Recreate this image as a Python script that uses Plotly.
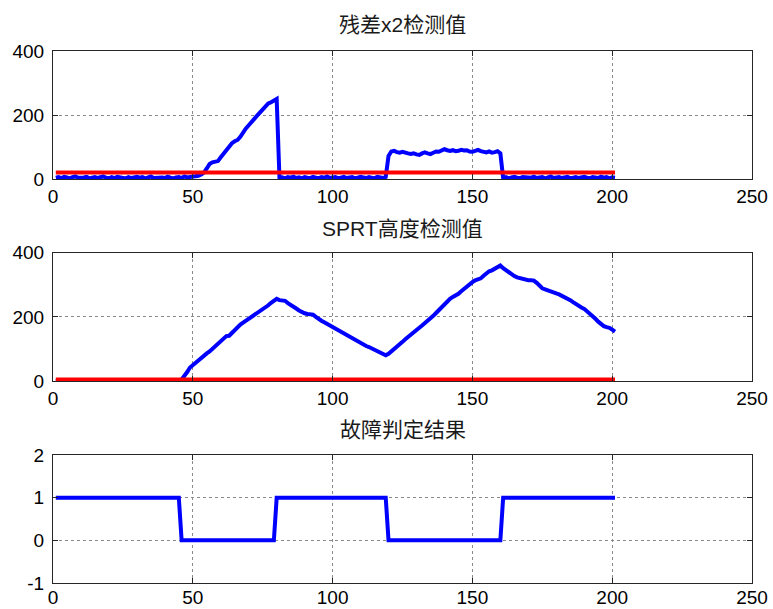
import plotly.graph_objects as go
from plotly.subplots import make_subplots

# ---------------- data ----------------
x2_values = [
    4, 6, 3, 7, 5, 2, 6, 8, 4, 3,
    5, 7, 2, 4, 6, 3, 5, 8, 4, 2,
    6, 3, 7, 5, 4, 2, 6, 3, 5, 7,
    4, 6, 2, 5, 8, 3, 4, 6, 5, 3,
    7, 4, 2, 5, 6, 3, 8, 5, 6, 7,
    9, 10, 14, 20, 33, 47, 52, 53, 56, 68,
    80, 90, 100, 112, 118, 122, 132, 148, 158, 168,
    180, 188, 198, 208, 220, 228, 236, 240, 244, 250,
    3, 5, 2, 6, 4, 7, 3, 5, 2, 6,
    4, 3, 7, 5, 2, 6, 4, 8, 3, 5,
    6, 2, 4, 7, 3, 5, 6, 2, 4, 7,
    5, 3, 6, 4, 2, 7, 5, 3, 6, 72,
    86, 88, 84, 82, 85, 84, 80, 78, 80, 77,
    75, 80, 83, 80, 78, 82, 86, 85, 88, 93,
    90, 88, 90, 87, 88, 91, 89, 90, 86, 85,
    88, 91, 87, 84, 83, 86, 82, 84, 87, 80,
    3, 6, 2, 5, 7, 4, 3, 6, 5, 2,
    4, 7, 3, 5, 6, 2, 4, 8, 3, 5,
    6, 3, 5, 7, 2, 4, 6, 3, 5, 7,
    4, 2, 6, 5, 3, 7, 4, 6, 2, 5,
    4,
]
x2_threshold = 20

sprt_values = [
    0, 0, 0, 0, 0, 0, 0, 0, 0, 0,
    0, 0, 0, 0, 0, 0, 0, 0, 0, 0,
    0, 0, 0, 0, 0, 0, 0, 0, 0, 0,
    0, 0, 0, 0, 0, 0, 0, 0, 0, 0,
    0, 0, 0, 0, 0, 5, 15, 28, 42, 50,
    58, 65, 72, 80, 86, 92, 100, 108, 117, 125,
    135, 140, 141, 150, 160, 168, 176, 182, 188, 193,
    198, 205, 212, 218, 224, 230, 236, 244, 250, 256,
    252, 252, 250, 243, 236, 231, 226, 220, 215, 211,
    209, 209, 207, 200, 193, 188, 183, 178, 173, 169,
    163, 157, 152, 147, 142, 137, 132, 128, 125, 118,
    112, 109, 106, 102, 98, 93, 89, 85, 80, 85,
    92, 97, 105, 114, 122, 130, 138, 146, 153, 160,
    166, 173, 180, 187, 194, 203, 212, 221, 230, 240,
    250, 256, 262, 266, 272, 280, 288, 296, 302, 308,
    314, 317, 320, 328, 336, 342, 345, 350, 355, 360,
    352, 345, 338, 332, 327, 323, 320, 317, 315, 314,
    314, 313, 306, 296, 289, 286, 282, 279, 276, 273,
    270, 266, 260, 256, 252, 246, 240, 233, 229, 225,
    218, 210, 202, 194, 185, 177, 171, 168, 166, 160,
    154,
]
sprt_threshold = 5

fault_values = [
    1, 1, 1, 1, 1, 1, 1, 1, 1, 1, 1, 1, 1, 1, 1,
    1, 1, 1, 1, 1, 1, 1, 1, 1, 1, 1, 1, 1, 1, 1,
    1, 1, 1, 1, 1, 1, 1, 1, 1, 1, 1, 1, 1, 1, 1,
    0, 0, 0, 0, 0, 0, 0, 0, 0, 0, 0, 0, 0, 0, 0,
    0, 0, 0, 0, 0, 0, 0, 0, 0, 0, 0, 0, 0, 0, 0,
    0, 0, 0, 0,
    1, 1, 1, 1, 1, 1, 1, 1, 1, 1, 1, 1, 1, 1, 1,
    1, 1, 1, 1, 1, 1, 1, 1, 1, 1, 1, 1, 1, 1, 1,
    1, 1, 1, 1, 1, 1, 1, 1, 1, 1,
    0, 0, 0, 0, 0, 0, 0, 0, 0, 0, 0, 0, 0, 0, 0,
    0, 0, 0, 0, 0, 0, 0, 0, 0, 0, 0, 0, 0, 0, 0,
    0, 0, 0, 0, 0, 0, 0, 0, 0, 0, 0,
    1, 1, 1, 1, 1, 1, 1, 1, 1, 1, 1, 1, 1, 1, 1,
    1, 1, 1, 1, 1, 1, 1, 1, 1, 1, 1, 1, 1, 1, 1,
    1, 1, 1, 1, 1, 1, 1, 1, 1, 1, 1,
]

titles = ["残差x2检测值", "SPRT高度检测值", "故障判定结果"]
x_ticks = [0, 50, 100, 150, 200, 250]
y_ticks_top = [0, 200, 400]
y_ticks_bottom = [-1, 0, 1, 2]

# ---------------- figure ----------------
x2_x = list(range(1, len(x2_values) + 1))
sprt_x = list(range(1, len(sprt_values) + 1))
fault_x = list(range(1, len(fault_values) + 1))

fig = make_subplots(rows=3, cols=1)
BLUE = "#0000FF"
RED = "#FF0000"
LW = 4

fig.add_trace(go.Scatter(x=x2_x, y=x2_values, mode="lines",
                         line=dict(color=BLUE, width=LW)), row=1, col=1)
fig.add_trace(go.Scatter(x=x2_x, y=[x2_threshold] * len(x2_x), mode="lines",
                         line=dict(color=RED, width=LW)), row=1, col=1)
fig.add_trace(go.Scatter(x=sprt_x, y=sprt_values, mode="lines",
                         line=dict(color=BLUE, width=LW)), row=2, col=1)
fig.add_trace(go.Scatter(x=sprt_x, y=[sprt_threshold] * len(sprt_x), mode="lines",
                         line=dict(color=RED, width=LW)), row=2, col=1)
fig.add_trace(go.Scatter(x=fault_x, y=fault_values, mode="lines",
                         line=dict(color=BLUE, width=LW)), row=3, col=1)

H = 609
top_px, bot_px = 51, 583
ph = bot_px - top_px
def py(p):
    return (bot_px - p) / ph

domains = [(py(179), 1.0), (py(381), py(252.7)), (0.0, py(455))]
title_y = [py(25), py(228), py(429)]

AX = "#262626"
GRID = "#8a8a8a"
TICKFONT = dict(family="Liberation Sans, Arial, sans-serif", size=19, color="#000")

common = dict(showline=True, linecolor=AX, linewidth=1, mirror="ticks",
              ticks="inside", ticklen=5, tickcolor=AX, tickwidth=1,
              showgrid=True, gridcolor=GRID, griddash="dot", gridwidth=1,
              zeroline=False, tickfont=TICKFONT, automargin=False)

x_standoff = [0, 0, -3]
for i in range(3):
    xa = "xaxis" if i == 0 else f"xaxis{i+1}"
    ya = "yaxis" if i == 0 else f"yaxis{i+1}"
    fig.layout[xa].update(range=[0, 250], tickvals=x_ticks,
                          ticktext=[str(v) for v in x_ticks],
                          domain=[0, 1], ticklabelstandoff=x_standoff[i], **common)
    if i < 2:
        fig.layout[ya].update(range=[0, 400], tickvals=y_ticks_top,
                              ticktext=[str(v) for v in y_ticks_top],
                              domain=list(domains[i]), ticklabelstandoff=4, **common)
    else:
        fig.layout[ya].update(range=[-1, 2], tickvals=y_ticks_bottom,
                              ticktext=[str(v) for v in y_ticks_bottom],
                              domain=list(domains[i]), ticklabelstandoff=4, **common)

annotations = []
for t, yy in zip(titles, title_y):
    annotations.append(dict(text=t, xref="paper", yref="paper", x=0.5, y=yy,
                            xanchor="center", yanchor="middle", showarrow=False,
                            font=dict(family="Liberation Sans, Noto Sans CJK SC, sans-serif",
                                      size=21, color="#1a1a1a")))

fig.update_layout(width=773, height=H,
                  margin=dict(l=53, r=21, t=top_px, b=H - bot_px, pad=0),
                  paper_bgcolor="white", plot_bgcolor="white",
                  showlegend=False, annotations=annotations)

fig.write_html("out.html", config={"displayModeBar": False},
               post_script="document.body.style.margin='0px';document.body.style.overflow='hidden';")
